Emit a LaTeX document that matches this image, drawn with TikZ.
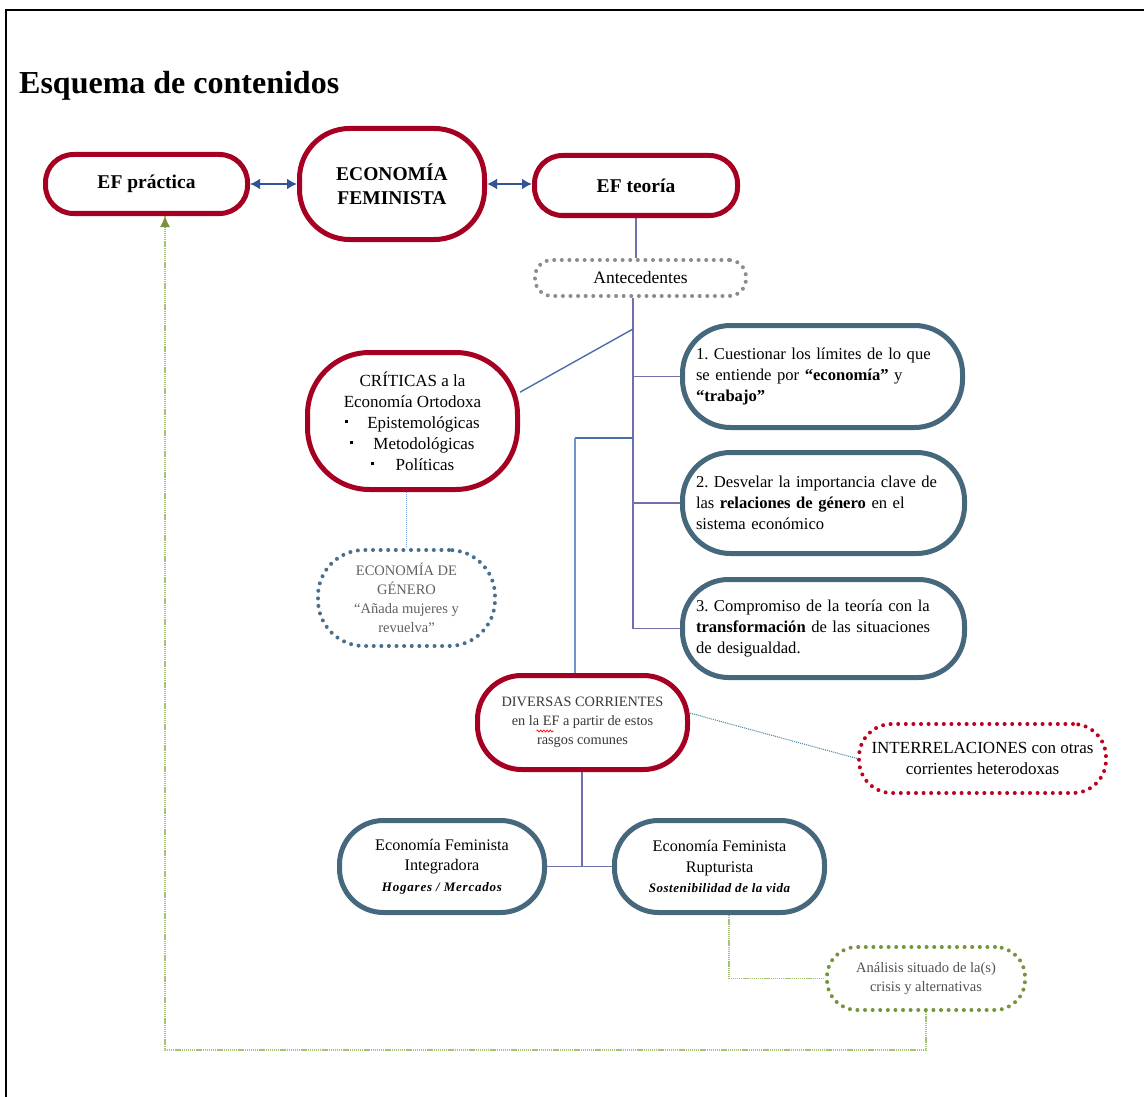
\documentclass[tikz,border=0pt]{standalone}
\usepackage{fontspec}
\setmainfont{Liberation Serif}
\usetikzlibrary{arrows.meta,backgrounds,calc,decorations.pathmorphing}
\definecolor{efred}{RGB}{165,0,33}
\definecolor{efblue}{RGB}{70,104,125}
\definecolor{arrblue}{RGB}{47,85,151}
\definecolor{trunk}{RGB}{112,112,170}
\definecolor{linkblue}{RGB}{74,110,170}
\definecolor{lightlink}{RGB}{110,150,205}
\definecolor{dotgray}{RGB}{140,140,140}
\definecolor{dotblue}{RGB}{74,111,138}
\definecolor{dotred}{RGB}{192,0,32}
\definecolor{dotgreen}{RGB}{119,147,60}
\definecolor{lightgreen}{RGB}{165,195,120}
\definecolor{teallink}{RGB}{79,138,160}
\definecolor{thinblue}{RGB}{120,160,210}
\newcommand{\fsz}[2]{\fontsize{#1}{#2}\selectfont}
\newcommand{\sqb}{\raisebox{0.28em}{\rule{3pt}{3pt}}}
\frenchspacing
\begin{document}
\begin{tikzpicture}[x=1pt,y=-1pt,
  box/.style={fill=white, line width=5pt, align=center, inner sep=0pt},
  redbox/.style={box, draw=efred},
  bluebox/.style={box, draw=efblue},
  dotbox/.style={fill=white, line width=4pt, dash pattern=on 0pt off 7.6pt, line cap=round, align=center, inner sep=0pt},
  dbl/.style={arrblue, line width=2.4pt, {Latex[length=10pt,width=11pt]}-{Latex[length=10pt,width=11pt]}},
  trunkline/.style={trunk, line width=1.4pt},
  thindot/.style={line width=1.1pt, dash pattern=on 1pt off 1pt},
  greenline/.style={lightgreen, line width=1.3pt, dash pattern=on 1.3pt off 0.8pt}
]
\useasboundingbox (0,0) rectangle (1144,1097);
% frame
\draw[line width=2pt] (6,1100) -- (6,10) -- (1150,10);
% title
\node[anchor=base west, inner sep=0pt, font=\fsz{32}{34}\bfseries] (title) at (19,94) {Esquema de contenidos};

% top row
\node[redbox, minimum width=202pt, minimum height=59pt, rounded corners=28pt, font=\fsz{19.5}{24}\bfseries] (prac) at (146.5,184) {EF práctica};
\node[redbox, minimum width=185pt, minimum height=111pt, rounded corners=50pt, font=\fsz{19.5}{24}\bfseries] (econ) at (392,184) {ECONOMÍA\\FEMINISTA};
\node[redbox, minimum width=203pt, minimum height=60pt, rounded corners=28pt, font=\fsz{19.5}{24}\bfseries] (teo) at (636,185.5) {EF teoría};

\node[dotbox, draw=dotgray, minimum width=211pt, minimum height=36pt, rounded corners=17pt, font=\fsz{17.5}{21}] (ante) at (640.5,278) {Antecedentes};

\node[redbox, minimum width=210pt, minimum height=137pt, rounded corners=62pt, font=\fsz{17}{21}] (crit) at (412.5,421)
  {CRÍTICAS a la\\Economía Ortodoxa\\\sqb\hspace{19pt}Epistemológicas\\\sqb\hspace{20pt}Metodológicas\\\sqb\hspace{22pt}Políticas};

\node[dotbox, draw=dotblue, minimum width=177pt, minimum height=96pt, rounded corners=46pt, font=\fsz{14.5}{19}, text=black!62] (gen) at (406.5,598)
  {ECONOMÍA DE\\GÉNERO\\“Añada mujeres y\\revuelva”};

\node[bluebox, minimum width=280pt, minimum height=102pt, rounded corners=48pt, text width=253pt, align=left, font=\fsz{16.6}{21}] (b1) at (822.5,376.5)
  {1. Cuestionar los límites de lo que\\se entiende por \textbf{“economía”} y\\\textbf{“trabajo”}};
\node[bluebox, minimum width=282pt, minimum height=101pt, rounded corners=48pt, text width=255pt, align=left, font=\fsz{16.6}{21}] (b2) at (823.5,503)
  {2. Desvelar la importancia clave de\\las \textbf{relaciones de género} en el\\sistema económico};
\node[bluebox, minimum width=282pt, minimum height=98pt, rounded corners=46pt, text width=255pt, align=left, font=\fsz{16.6}{21}] (b3) at (823.5,628.5)
  {3. Compromiso de la teoría con la\\\textbf{transformación} de las situaciones\\de desigualdad.};

\node[redbox, minimum width=210pt, minimum height=94pt, rounded corners=44pt, font=\fsz{14.3}{19}, text=black!78] (div) at (582.5,722.5)
  {DIVERSAS CORRIENTES\\en la EF a partir de estos\\rasgos comunes};

\node[dotbox, draw=dotred, minimum width=247pt, minimum height=69pt, rounded corners=33pt, font=\fsz{17}{21}] (inter) at (982.5,758.5)
  {INTERRELACIONES con otras\\corrientes heterodoxas};

\node[bluebox, minimum width=205pt, minimum height=92pt, rounded corners=44pt, font=\fsz{16.2}{20.5}] (integ) at (442,866.5)
  {Economía Feminista\\Integradora\\{\fsz{13}{16}\bfseries\itshape\addfontfeatures{LetterSpace=6}Hogares / Mercados}};
\node[bluebox, minimum width=210pt, minimum height=92pt, rounded corners=44pt, font=\fsz{16.2}{20.5}] (rupt) at (719.5,866.5)
  {Economía Feminista\\Rupturista\\{\fsz{13}{16}\bfseries\itshape\addfontfeatures{LetterSpace=4}Sostenibilidad de la vida}};

\node[dotbox, draw=dotgreen, minimum width=198pt, minimum height=63pt, rounded corners=30pt, font=\fsz{14.5}{19}, text=black!68] (anal) at (926,978.5)
  {Análisis situado de la(s)\\crisis y alternativas};

% spell-check squiggle under "EF"
\draw[red, line width=0.7pt, decorate, decoration={snake, amplitude=1pt, segment length=3.2pt}] ($(div.center)+(-46,8.5)$) -- ++(17,0);

% helper coordinates
\coordinate (j0) at (633,329);
\coordinate (j1) at (633,438);
\coordinate (j2) at (575,438);
\coordinate (g1) at (729,978.5);
\coordinate (g2) at (165,1050);

\begin{scope}[on background layer]
  \fill[white] (0,0) rectangle (1144,1097);
  \draw[dbl] (prac.east) -- (econ.west);
  \draw[dbl] (econ.east) -- (econ.east -| teo.west);
  \draw[trunkline] (teo.south) -- (teo.south |- ante.north);
  \draw[trunkline] (ante.south -| j0) -- (j0 |- b3.west) -- (b3.west);
  \draw[trunkline] (j0 |- b1.west) -- (b1.west);
  \draw[trunkline] (j0 |- b2.west) -- (b2.west);
  \draw[linkblue, line width=1.4pt] (j0) -- (crit.15);
  \draw[linkblue, line width=1.4pt] (j1) -- (j2);
  \draw[lightlink, line width=1.4pt] (j2) -- (j2 |- div.north);
  \draw[thinblue, thindot] (gen.north |- crit.south) -- (gen.north);
  \draw[teallink, thindot] (div.5) -- (inter.west);
  \draw[trunkline, line width=1.8pt] (div.south -| 582,0) -- (582,866.5);
  \draw[trunkline, line width=1.8pt] (integ.east) -- (rupt.west);
  \draw[greenline] (g1 |- rupt.south) -- (g1) -- (anal.west);
  \draw[greenline] (anal.south) -- (anal.south |- g2) -- (g2) -- (prac.south -| g2);
\end{scope}
\draw[dotgreen, line width=1pt, -{Latex[length=11pt,width=10pt]}] ($(prac.south -| g2)+(0,12)$) -- (prac.south -| g2);
\end{tikzpicture}
\end{document}
